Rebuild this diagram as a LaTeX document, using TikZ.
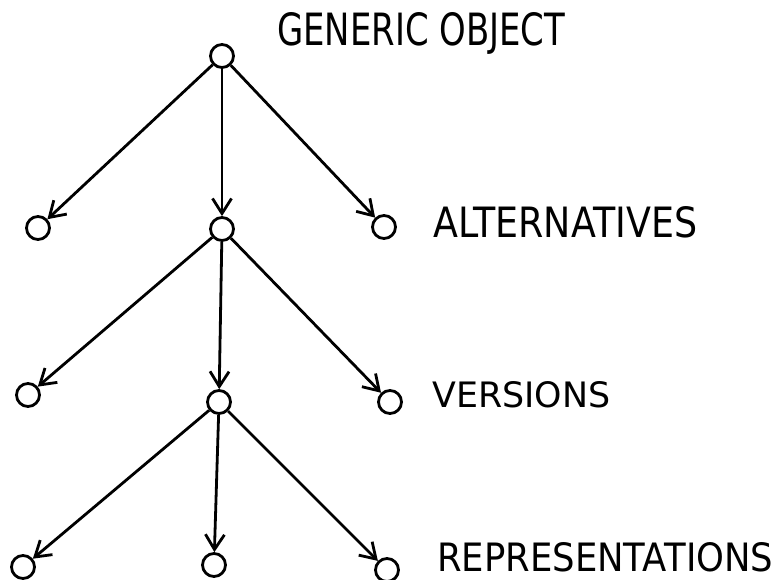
\documentclass[tikz,border=0pt]{standalone}
\usepackage{fontspec}
\setmainfont{DejaVu Sans}
\usetikzlibrary{arrows.meta}
\begin{document}
\begin{tikzpicture}[x=1pt,y=-1pt,
  obj/.style={draw,circle,line width=2.8pt,minimum size=23pt,inner sep=0pt},
  edge/.style={line width=2.8pt,-{Straight Barb[length=15pt,width=19pt,line width=2.8pt]}},
  lbl/.style={anchor=west,inner sep=0pt}]
\useasboundingbox (0,0) rectangle (781,580);
\node[obj] (t)  at (222,56) {};
\node[obj] (a1) at (38,228) {};
\node[obj] (a2) at (222,229) {};
\node[obj] (a3) at (384,227) {};
\node[obj] (v1) at (28,395) {};
\node[obj] (v2) at (219,402) {};
\node[obj] (v3) at (390,402) {};
\node[obj] (r1) at (23,567) {};
\node[obj] (r2) at (214,565) {};
\node[obj] (r3) at (387,570) {};
\draw[edge] (t) -- (a1);
\draw[edge] (t) -- (a2);
\draw[edge] (t) -- (a3);
\draw[edge] (a2) -- (v1);
\draw[edge] (a2) -- (v2);
\draw[edge] (a2) -- (v3);
\draw[edge] (v2) -- (r1);
\draw[edge] (v2) -- (r2);
\draw[edge] (v2) -- (r3);
\node[lbl] (lg) at (277,33) {\resizebox{288pt}{33pt}{GENERIC OBJECT}};
\node[lbl] (la) at (433,222) {\resizebox{264pt}{31pt}{ALTERNATIVES}};
\node[lbl] (lv) at (432,395) {\resizebox{178pt}{26pt}{VERSIONS}};
\node[lbl] (lr) at (437,557) {\resizebox{336pt}{29pt}{REPRESENTATIONS}};
\end{tikzpicture}
\end{document}
